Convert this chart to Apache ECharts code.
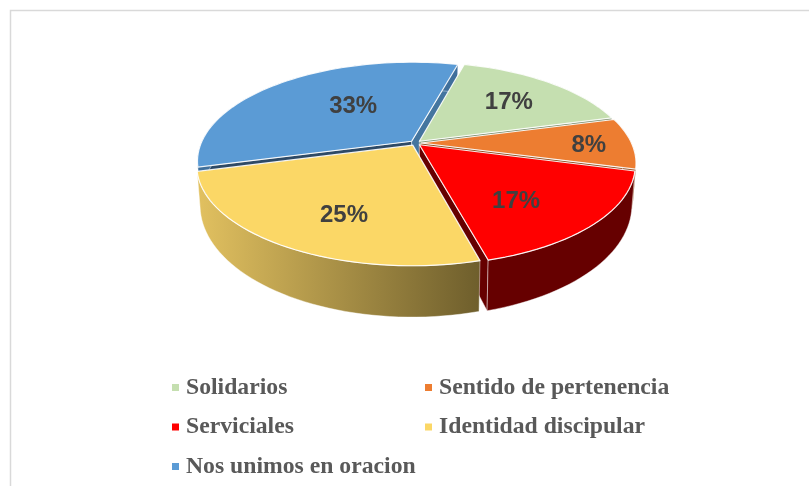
<!DOCTYPE html>
<html>
<head>
<meta charset="utf-8">
<style>html,body{margin:0;padding:0;background:#fff}#c{width:809px;height:486px}</style>
<script src="https://cdn.jsdelivr.net/npm/echarts@6/dist/echarts.min.js"></script>
</head>
<body>
<div id="c"></div>
<script>
const categories = ['Solidarios', 'Sentido de pertenencia', 'Serviciales', 'Identidad discipular', 'Nos unimos en oracion'];
const values = [2, 1, 2, 3, 4];

const topColors = ['#C5DFB0', '#ED7D31', '#FF0000', '#FBD766', '#5B9BD5'];
const wallColors = ['#7F9170', '#8E4B1D', '#660000',
  { type: 'linear', x: 0, y: 0, x2: 1, y2: 0, colorStops: [{ offset: 0, color: '#E2C160' }, { offset: 1, color: '#6E5E2C' }] },
  '#3F6F9B'];
const startWallColors = ['#7F9170', '#8E4B1D', '#660000', '#6E5E2C', '#2E4A66'];
const endWallColors = ['#7F9170', '#8E4B1D', '#660000', '#6E5E2C', '#44759F'];
const labelNudge = [[11, -3], [47, 2], [3, 14], [-1, 17], [20, 1]];

const START = 15, CX = 415.5, CY = 143, R = 210.5, RY = 95.5, P = 0.2, DEPTH = 37, SX = 0.985, SY = 1.117, EXPLODE = 0.026;
const total = values.reduce((a, b) => a + b, 0);
const rad = d => d * Math.PI / 180;

function project(X, Y, bottom) {
  const k = 1 / (1 - P * Y);
  return [CX + R * X * k * (bottom ? SX : 1), CY + (bottom ? DEPTH : 0) + RY * Y * k * (bottom ? SY : 1)];
}
function renderSlice(idx) {
  return function (params, api) {
    let before = 0;
    for (let i = 0; i < idx; i++) before += values[i];
    const v = api.value(0);
    const a0 = START + before / total * 360, a1 = a0 + v / total * 360, mid = (a0 + a1) / 2;
    const ox = Math.sin(rad(mid)) * EXPLODE, oy = -Math.cos(rad(mid)) * EXPLODE;
    const pt = (deg, r, bottom) => project(ox + r * Math.sin(rad(deg)), oy - r * Math.cos(rad(deg)), bottom);
    const arc = (bottom) => {
      const out = [];
      for (let d = a0; d < a1; d += 2) out.push(pt(d, 1, bottom));
      out.push(pt(a1, 1, bottom));
      return out;
    };
    const children = [];
    const baseZ = idx === 4 ? 1 : idx + 2;
    const wallStroke = { stroke: 'rgba(255,255,255,0.55)', lineWidth: 0.8 };
    const radial = (deg, color) => ({
      type: 'polygon', z2: baseZ,
      shape: { points: [pt(deg, 0, false), pt(deg, 1, false), pt(deg, 1, true), pt(deg, 0, true)] },
      style: Object.assign({ fill: color }, wallStroke)
    });
    if (-Math.sin(rad(a0)) > 0) children.push(radial(a0, startWallColors[idx]));
    if (Math.sin(rad(a1)) > 0) children.push(radial(a1, endWallColors[idx]));
    children.push({
      type: 'polygon', z2: baseZ + 10,
      shape: { points: arc(false).concat(arc(true).reverse()) },
      style: Object.assign({ fill: wallColors[idx] }, wallStroke)
    });
    children.push({
      type: 'polygon', z2: 100 + idx,
      shape: { points: [pt(a0, 0, false)].concat(arc(false)) },
      style: { fill: topColors[idx], stroke: 'rgba(255,255,255,0.9)', lineWidth: 1.2, lineJoin: 'round' }
    });
    const c = project(0.6 * Math.sin(rad(mid)), -0.6 * Math.cos(rad(mid)), false);
    children.push({
      type: 'text', z2: 200,
      style: {
        x: c[0] + labelNudge[idx][0], y: c[1] + labelNudge[idx][1],
        text: Math.round(v / total * 100) + '%',
        fill: '#404040', font: 'bold 24px "Liberation Sans", Arial, sans-serif',
        align: 'center', verticalAlign: 'middle'
      }
    });
    return { type: 'group', children };
  };
}
const legendBase = {
  orient: 'vertical', icon: 'rect', itemWidth: 7, itemHeight: 7, itemGap: 14.5, top: 375, padding: 0, height: 112,
  selectedMode: false,
  textStyle: { fontFamily: '"Liberation Serif", serif', fontWeight: 'bold', fontSize: 23.7, color: '#595959', lineHeight: 25, padding: [0, 0, 0, 2] }
};
const chart = echarts.init(document.getElementById('c'), null, { renderer: 'canvas' });
chart.setOption({
  animation: false,
  backgroundColor: '#fff',
  graphic: [{ type: 'rect', shape: { x: 10.5, y: 10.5, width: 900, height: 600 }, style: { fill: 'none', stroke: '#D9D9D9', lineWidth: 1.5 }, silent: true }],
  legend: [
    Object.assign({}, legendBase, { left: 172, data: [categories[0], categories[2], categories[4]] }),
    Object.assign({}, legendBase, { left: 425, data: [categories[1], categories[3]] })
  ],
  series: categories.map((name, i) => ({
    type: 'custom', name, coordinateSystem: 'none', silent: true,
    itemStyle: { color: topColors[i] },
    data: [[values[i]]],
    renderItem: renderSlice(i)
  }))
});
</script>
</body>
</html>
